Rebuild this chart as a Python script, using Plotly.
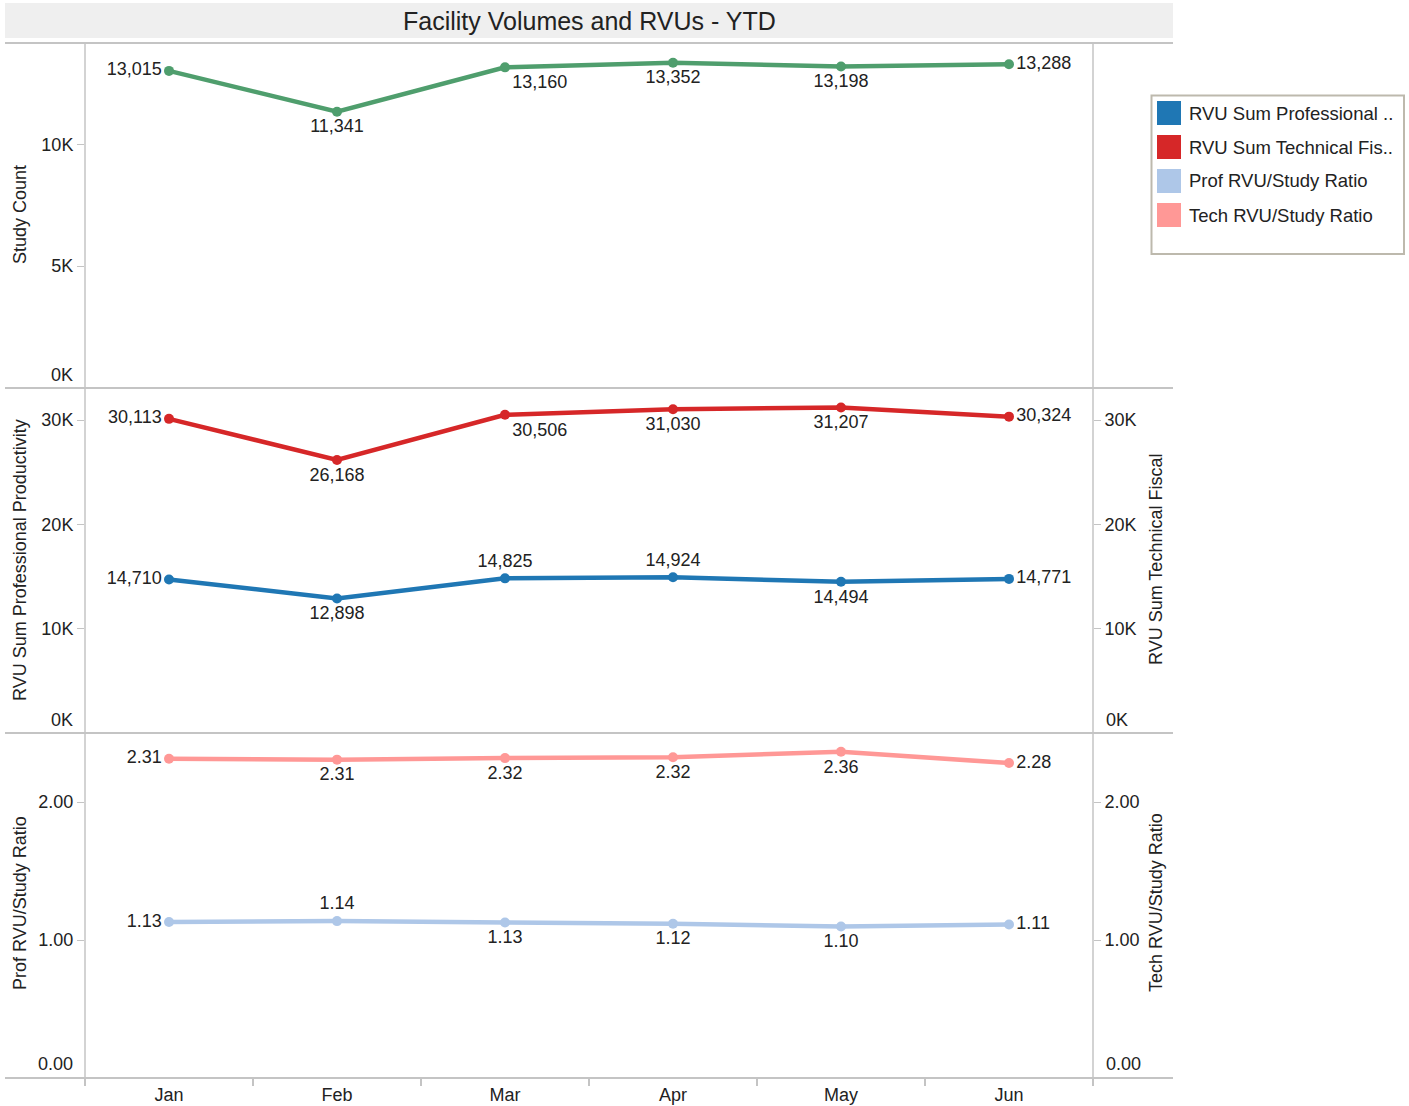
import plotly.graph_objects as go

# ---------------- data ----------------
months = ["Jan", "Feb", "Mar", "Apr", "May", "Jun"]
study_count = [13015, 11341, 13160, 13352, 13198, 13288]
rvu_prof = [14710, 12898, 14825, 14924, 14494, 14771]
rvu_tech = [30113, 26168, 30506, 31030, 31207, 30324]
prof_ratio = [1.130, 1.137, 1.127, 1.118, 1.098, 1.112]
tech_ratio = [2.314, 2.307, 2.318, 2.324, 2.364, 2.282]

legend_names = ["RVU Sum Professional ..", "RVU Sum Technical Fis..",
                "Prof RVU/Study Ratio", "Tech RVU/Study Ratio"]

# ---------------- styles ----------------
W, H = 1409, 1106
FONT = "Liberation Sans, Arial, sans-serif"
C_GREEN = "#4f9e6d"
C_BLUE = "#1f77b4"
C_RED = "#d62728"
C_LBLUE = "#aec7e8"
C_PINK = "#ff9896"
GRID = "#c4c4c4"
TXT = "#222222"
FS = 18

L, R = 85, 1093
P_TOP = [43, 388, 733]
P_BOT = [388, 733, 1078]


def px(x):
    return x / W


def py(y):
    return 1 - y / H


pos_study = ["middle left", "bottom center", "bottom right", "bottom center", "bottom center", "middle right"]
pos_tech = ["middle left", "bottom center", "bottom right", "bottom center", "bottom center", "middle right"]
pos_prof = ["middle left", "bottom center", "top center", "top center", "bottom center", "middle right"]
pos_tratio = ["middle left", "bottom center", "bottom center", "bottom center", "bottom center", "middle right"]
pos_pratio = ["middle left", "top center", "bottom center", "bottom center", "bottom center", "middle right"]


def line_trace(y, color, xa, ya, fmt, pos, name):
    return go.Scatter(
        x=months, y=y, xaxis=xa, yaxis=ya, name=name,
        mode="lines+markers+text",
        line=dict(color=color, width=4.5),
        marker=dict(color=color, size=10),
        texttemplate=fmt, textposition=pos,
        textfont=dict(family=FONT, size=FS, color=TXT),
        showlegend=False, cliponaxis=False,
    )


fig = go.Figure()
fig.add_trace(line_trace(study_count, C_GREEN, "x", "y", "%{y:,.0f}", pos_study, "Study Count"))
fig.add_trace(line_trace(rvu_prof, C_BLUE, "x2", "y2", "%{y:,.0f}", pos_prof, legend_names[0]))
fig.add_trace(line_trace(rvu_tech, C_RED, "x2", "y4", "%{y:,.0f}", pos_tech, legend_names[1]))
fig.add_trace(line_trace(prof_ratio, C_LBLUE, "x3", "y3", "%{y:.2f}", pos_pratio, legend_names[2]))
fig.add_trace(line_trace(tech_ratio, C_PINK, "x3", "y5", "%{y:.2f}", pos_tratio, legend_names[3]))

xdom = [px(L), px(R)]


def ydom(i):
    return [py(P_BOT[i]), py(P_TOP[i])]


xcommon = dict(domain=xdom, type="category", categoryorder="array", categoryarray=months,
               range=[-0.5, 5.5], showgrid=False, zeroline=False, showline=False)
ycommon = dict(showgrid=False, zeroline=False, showline=False, ticks="outside", ticklen=7,
               tickcolor=GRID, tickwidth=1,
               tickfont=dict(family=FONT, size=FS, color=TXT))

R1, R2, R3 = 14160, 33070, 2.50

fig.update_layout(
    width=W, height=H,
    margin=dict(l=0, r=0, t=0, b=0),
    paper_bgcolor="white", plot_bgcolor="white",
    showlegend=False,
    xaxis=dict(**xcommon, anchor="y", showticklabels=False, ticks=""),
    xaxis2=dict(**xcommon, anchor="y2", showticklabels=False, ticks=""),
    xaxis3=dict(**xcommon, anchor="y3", ticks="outside", tickson="boundaries", ticklen=7,
                tickcolor=GRID, tickwidth=2, ticklabelstandoff=4,
                tickfont=dict(family=FONT, size=FS, color=TXT)),
    yaxis=dict(**ycommon, domain=ydom(0), anchor="x", range=[0, R1],
               tickvals=[5000, 10000], ticktext=["5K", "10K"]),
    yaxis2=dict(**ycommon, domain=ydom(1), anchor="x2", range=[0, R2],
                tickvals=[10000, 20000, 30000], ticktext=["10K", "20K", "30K"]),
    yaxis4=dict(**ycommon, domain=ydom(1), anchor="x2", overlaying="y2", side="right",
                range=[0, R2], tickvals=[10000, 20000, 30000], ticktext=["10K", "20K", "30K"]),
    yaxis3=dict(**ycommon, domain=ydom(2), anchor="x3", range=[0, R3],
                tickvals=[1, 2], ticktext=["1.00", "2.00"]),
    yaxis5=dict(**ycommon, domain=ydom(2), anchor="x3", overlaying="y3", side="right",
                range=[0, R3], tickvals=[1, 2], ticktext=["1.00", "2.00"]),
)

shapes = []
# title band
shapes.append(dict(type="rect", xref="paper", yref="paper", x0=px(5), x1=px(1173), y0=py(38), y1=py(3),
                   fillcolor="#efefef", line=dict(width=0), layer="below"))
# horizontal separators
for y in [43, 388, 733, 1078]:
    shapes.append(dict(type="line", xref="paper", yref="paper", x0=px(5), x1=px(1173), y0=py(y), y1=py(y),
                       line=dict(color=GRID, width=2)))
# vertical axis lines
for x in [L, R]:
    shapes.append(dict(type="line", xref="paper", yref="paper", x0=px(x), x1=px(x), y0=py(43), y1=py(1085),
                       line=dict(color=GRID, width=1.5)))
# legend box
shapes.append(dict(type="rect", xref="paper", yref="paper", x0=px(1151.5), x1=px(1404), y0=py(254), y1=py(95.5),
                   fillcolor="white", line=dict(color="#bdb9ad", width=2)))
leg_colors = [C_BLUE, C_RED, C_LBLUE, C_PINK]
leg_y = [113, 147, 181, 215]
for c, yc in zip(leg_colors, leg_y):
    shapes.append(dict(type="rect", xref="paper", yref="paper", x0=px(1157), x1=px(1181),
                       y0=py(yc + 12), y1=py(yc - 12), fillcolor=c, line=dict(width=0)))
fig.update_layout(shapes=shapes)

ann = []
ann.append(dict(text="Facility Volumes and RVUs - YTD", xref="paper", yref="paper", x=px(589), y=py(21),
                xanchor="center", yanchor="middle", showarrow=False,
                font=dict(family=FONT, size=25, color=TXT)))
for name, yc in zip(legend_names, leg_y):
    ann.append(dict(text=name, xref="paper", yref="paper", x=px(1187), y=py(yc), xanchor="left",
                    yanchor="middle", showarrow=False, font=dict(family=FONT, size=18.5, color=TXT)))
# axis titles
for t, x, y in [("Study Count", 20, 215), ("RVU Sum Professional Productivity", 20, 560),
                ("Prof RVU/Study Ratio", 20, 903), ("RVU Sum Technical Fiscal", 1156, 560),
                ("Tech RVU/Study Ratio", 1156, 903)]:
    ann.append(dict(text=t, xref="paper", yref="paper", x=px(x), y=py(y), xanchor="center",
                    yanchor="middle", textangle=-90, showarrow=False,
                    font=dict(family=FONT, size=FS, color=TXT)))
# zero labels (shifted up, as in the reference)
for t, x, y, xa in [("0K", 75, 375, "right"), ("0K", 75, 720, "right"), ("0.00", 75, 1064, "right"),
                    ("0K", 1104, 720, "left"), ("0.00", 1104, 1064, "left")]:
    ann.append(dict(text=t, xref="paper", yref="paper", x=px(x), y=py(y), xanchor=xa,
                    yanchor="middle", showarrow=False, font=dict(family=FONT, size=FS, color=TXT)))
fig.update_layout(annotations=ann)

fig.write_html("out.html", config={"displayModeBar": False},
               post_script="document.body.style.margin='0';document.body.style.padding='0';")
